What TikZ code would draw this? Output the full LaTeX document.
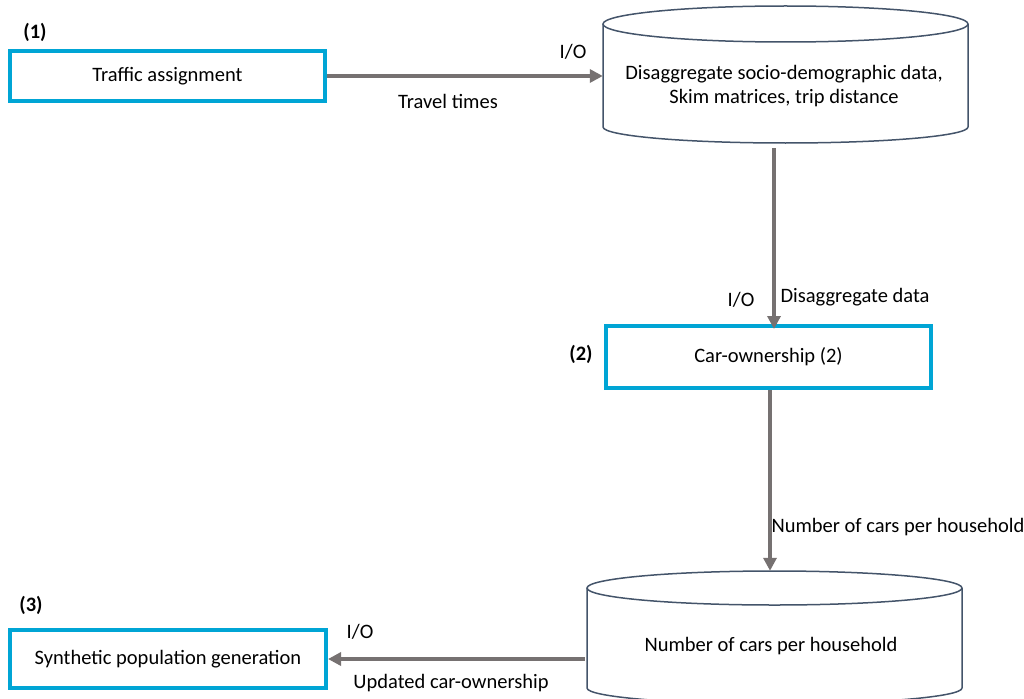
\documentclass[tikz,border=0pt]{standalone}
\usepackage{fontspec}
\setmainfont{Carlito}
\usetikzlibrary{arrows.meta}
\definecolor{boxcyan}{HTML}{00A5D5}
\definecolor{flowgrey}{HTML}{767171}
\definecolor{dbedge}{HTML}{44546A}

\begin{document}
\begin{tikzpicture}[x=1pt,y=1pt,
  font=\fontsize{20.5}{24}\selectfont,
  procbox/.style={draw=boxcyan, line width=4pt, fill=white, inner sep=0pt},
  store/.style={inner sep=0pt},
  dbline/.style={draw=dbedge, line width=1.5pt},
  flow/.style={draw=flowgrey, line width=3.5pt, -{Triangle[length=13pt,width=13pt]}},
  tag/.style={font=\fontsize{20.5}{24}\selectfont\bfseries}
]
\useasboundingbox (0,0) rectangle (1024,-698);

% data stores
\draw[dbline] (603,-24) -- (603,-127) arc[start angle=180, end angle=360, x radius=182.5, y radius=16] -- (968,-24);
\draw[dbline] (785.5,-24) ellipse[x radius=182.5, y radius=18];
\draw[dbline] (587,-588) -- (587,-688) arc[start angle=180, end angle=360, x radius=187.5, y radius=16] -- (962,-588);
\draw[dbline] (774.5,-588) ellipse[x radius=187.5, y radius=17];

\path node[procbox, minimum width=315pt, minimum height=50pt] (assign) at (167.5,-76) {Traffic assignment}
node[procbox, minimum width=325pt, minimum height=62pt] (carown) at (768.5,-357) {Car-ownership (2)}
node[procbox, minimum width=316pt, minimum height=58pt] (synth) at (168,-659) {Synthetic population generation}
node[store, minimum width=365pt, minimum height=137pt] (skim) at (785.5,-74.5) {}
node[store, minimum width=375pt, minimum height=133pt] (cars) at (774.5,-637.5) {}
node[align=center] (skimtxt) at (784,-86) {Disaggregate socio-demographic data,\\Skim matrices, trip distance}
node (carstxt) at (771,-646) {Number of cars per household}
node[tag] (tag1) at (35,-32) {(1)}
node[tag] (tag2) at (581,-354) {(2)}
node[tag] (tag3) at (31,-605) {(3)}
node (io1) at (573,-52) {I/O}
node (ttimes) at (448,-101) {Travel times}
node (io2) at (741,-300) {I/O}
node (ddata) at (855,-297) {Disaggregate data}
node (ncars) at (898,-527) {Number of cars per household}
node (io3) at (360,-632) {I/O}
node (upd) at (451,-683) {Updated car-ownership}
;

% flows
\draw[flow] (assign.east) -- (assign.east -| skim.west);
\draw[flow] ([xshift=-11.5pt,yshift=-5pt]skim.south) -- ([xshift=-11.5pt,yshift=-5pt]skim.south |- carown.north);
\draw[flow] ([xshift=1.5pt]carown.south) -- ([xshift=1.5pt]carown.south |- cars.north);
\draw[flow] ([xshift=-2pt]cars.west |- synth.east) -- (synth.east);
\end{tikzpicture}
\end{document}
